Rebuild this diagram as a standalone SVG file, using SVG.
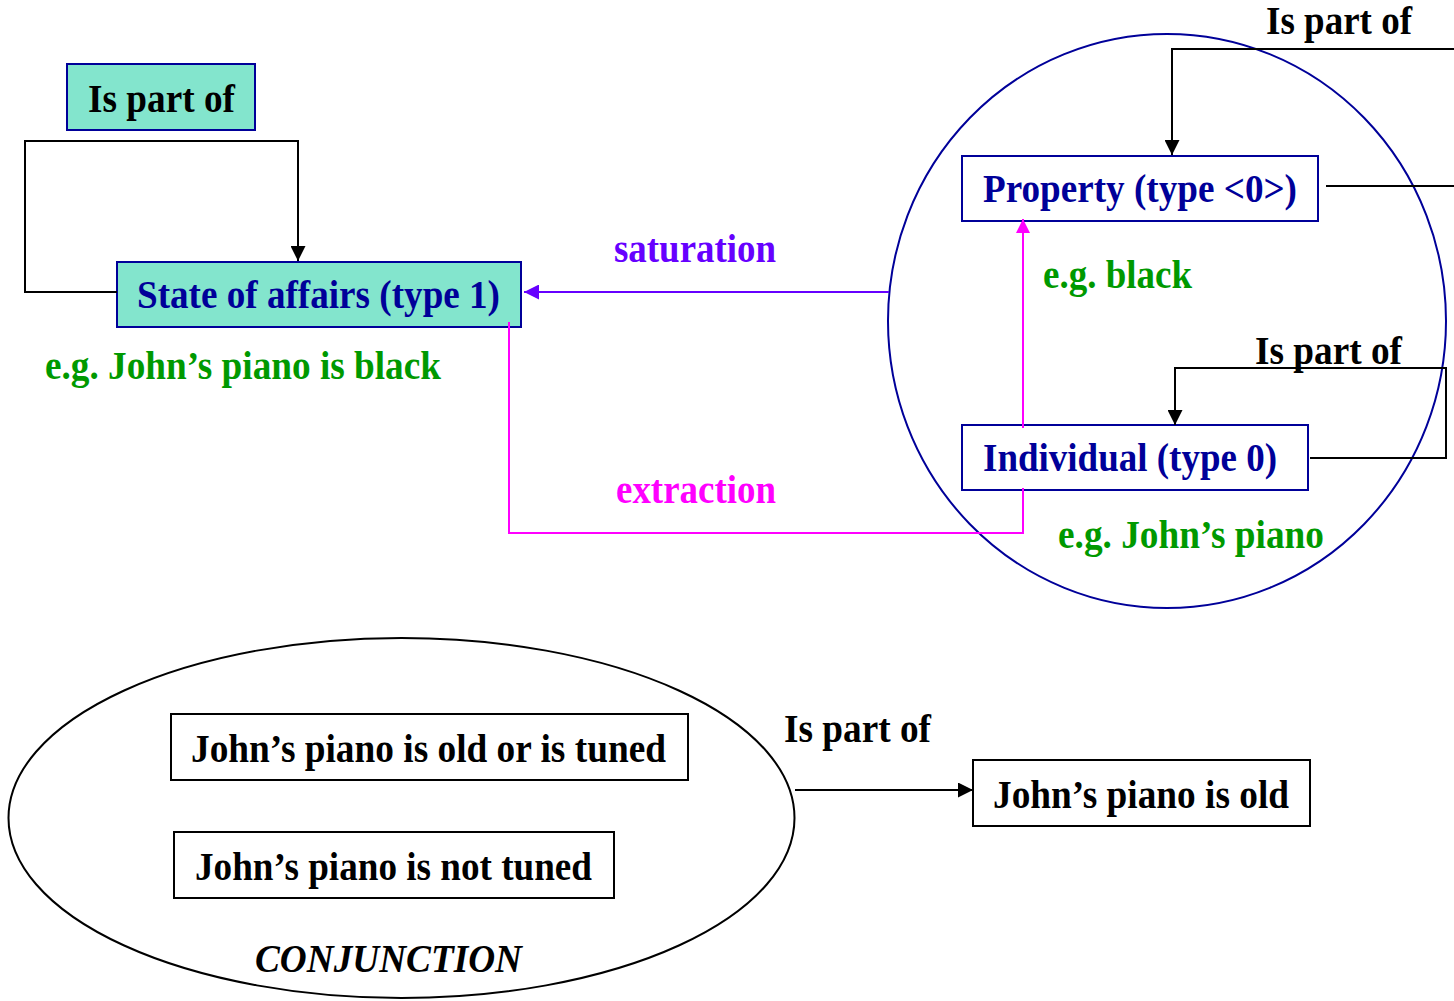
<svg xmlns="http://www.w3.org/2000/svg" width="1454" height="1001" viewBox="0 0 1454 1001">
  <style>
    text { font-family: "Liberation Serif", "Times New Roman", serif; font-weight: bold; font-size: 39px; }
    .navy { fill: #000099; }
    .green { fill: #009900; }
    .black { fill: #000000; }
    .purple { fill: #6600FF; }
    .magenta { fill: #FF00FF; }
    .mint { fill: #83E5CD; stroke: #000099; stroke-width: 2; }
    .plain { fill: #FFFFFF; stroke: #000099; stroke-width: 2; }
    .bwbox { fill: #FFFFFF; stroke: #000000; stroke-width: 2; }
    .wire { fill: none; stroke: #000000; stroke-width: 2; }
    .sat { fill: none; stroke: #6600FF; stroke-width: 2; }
    .ext { fill: none; stroke: #FF00FF; stroke-width: 2; }
  </style>
  <defs>
    <marker id="ah-black" viewBox="0 0 10 10" refX="10" refY="5" markerWidth="15" markerHeight="15" markerUnits="userSpaceOnUse" orient="auto">
      <path d="M0,0 L10,5 L0,10 z" fill="#000000"/>
    </marker>
    <marker id="ah-purple" viewBox="0 0 10 10" refX="10" refY="5" markerWidth="15" markerHeight="15" markerUnits="userSpaceOnUse" orient="auto">
      <path d="M0,0 L10,5 L0,10 z" fill="#6600FF"/>
    </marker>
    <marker id="ah-magenta" viewBox="0 0 10 10" refX="10" refY="5" markerWidth="14" markerHeight="14" markerUnits="userSpaceOnUse" orient="auto">
      <path d="M0,0 L10,5 L0,10 z" fill="#FF00FF"/>
    </marker>
  </defs>

  <!-- containers -->
  <g id="types-circle">
    <ellipse cx="1167" cy="321" rx="279" ry="287" fill="none" stroke="#000099" stroke-width="2"/>
  </g>
  <g id="conjunction">
    <ellipse cx="401.5" cy="818" rx="393" ry="180" fill="none" stroke="#000000" stroke-width="2"/>
    <text x="255" y="972" textLength="267" lengthAdjust="spacingAndGlyphs" font-style="italic" class="black">CONJUNCTION</text>
  </g>

  <!-- nodes -->
  <g id="is-part-of-box">
    <rect x="67" y="64" width="188" height="66" class="mint"/>
    <text x="88" y="112" textLength="147" lengthAdjust="spacingAndGlyphs" class="black">Is part of</text>
  </g>
  <g id="state-of-affairs">
    <rect x="117" y="262" width="404" height="65" class="mint"/>
    <text x="137" y="308" textLength="363" lengthAdjust="spacingAndGlyphs" class="navy">State of affairs (type 1)</text>
  </g>
  <g id="property">
    <rect x="962" y="156" width="356" height="65" class="plain"/>
    <text x="983" y="202" textLength="314" lengthAdjust="spacingAndGlyphs" class="navy">Property (type &lt;0&gt;)</text>
  </g>
  <g id="individual">
    <rect x="962" y="425" width="346" height="65" class="plain"/>
    <text x="983" y="471" textLength="294" lengthAdjust="spacingAndGlyphs" class="navy">Individual (type 0)</text>
  </g>
  <g id="old-or-tuned">
    <rect x="171" y="714" width="517" height="66" class="bwbox"/>
    <text x="191" y="762" textLength="475" lengthAdjust="spacingAndGlyphs" class="black">John’s piano is old or is tuned</text>
  </g>
  <g id="not-tuned">
    <rect x="174" y="832" width="440" height="66" class="bwbox"/>
    <text x="195" y="880" textLength="397" lengthAdjust="spacingAndGlyphs" class="black">John’s piano is not tuned</text>
  </g>
  <g id="is-old">
    <rect x="973" y="760" width="337" height="66" class="bwbox"/>
    <text x="993" y="808" textLength="296" lengthAdjust="spacingAndGlyphs" class="black">John’s piano is old</text>
  </g>

  <!-- example labels -->
  <g id="examples">
    <text x="45" y="379" textLength="396" lengthAdjust="spacingAndGlyphs" class="green">e.g. John’s piano is black</text>
    <text x="1043" y="288" textLength="149" lengthAdjust="spacingAndGlyphs" class="green">e.g. black</text>
    <text x="1058" y="548" textLength="266" lengthAdjust="spacingAndGlyphs" class="green">e.g. John’s piano</text>
  </g>

  <!-- connectors -->
  <g id="connectors">
    <!-- self loop on state of affairs -->
    <path d="M117,292 H25 V141 H298 V261" class="wire" marker-end="url(#ah-black)"/>
    <!-- saturation -->
    <path d="M889,292 H524" class="sat" marker-end="url(#ah-purple)"/>
    <text x="614" y="262" textLength="162" lengthAdjust="spacingAndGlyphs" class="purple">saturation</text>
    <!-- extraction -->
    <path d="M509,322 V533 H1023 V488" class="ext"/>
    <path d="M1023,428 V219" class="ext" marker-end="url(#ah-magenta)"/>
    <text x="616" y="503" textLength="160" lengthAdjust="spacingAndGlyphs" class="magenta">extraction</text>
    <!-- property part-of loop (runs off the right edge) -->
    <path d="M1454,49 H1172 V155" class="wire" marker-end="url(#ah-black)"/>
    <path d="M1326,186 H1454" class="wire"/>
    <text x="1266" y="34" textLength="146" lengthAdjust="spacingAndGlyphs" class="black">Is part of</text>
    <!-- individual part-of loop -->
    <path d="M1310,458 H1446 V368 H1175 V425" class="wire" marker-end="url(#ah-black)"/>
    <text x="1255" y="364" textLength="147" lengthAdjust="spacingAndGlyphs" class="black">Is part of</text>
    <!-- conjunction part-of -->
    <path d="M795,790 H973" class="wire" marker-end="url(#ah-black)"/>
    <text x="784" y="742" textLength="147" lengthAdjust="spacingAndGlyphs" class="black">Is part of</text>
  </g>
</svg>
